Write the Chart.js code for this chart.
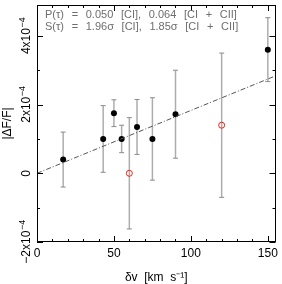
<!DOCTYPE html>
<html>
<head>
<meta charset="utf-8">
<script src="https://cdn.jsdelivr.net/npm/chart.js@4"></script>
<style>
  html, body { margin: 0; padding: 0; background: #fff; }
  #wrap { width: 282px; height: 284px; }
</style>
</head>
<body>
<div id="wrap"><canvas id="c"></canvas></div>
<script>
// measured points: CI (filled) and CI+CII only (open red)
const dvFilled  = [17, 43, 50, 55, 65, 75, 90, 150];
const dfFilled  = [0.40e-4, 1.00e-4, 1.75e-4, 1.00e-4, 1.35e-4, 1.00e-4, 1.72e-4, 3.60e-4];
const errFilled = [0.80e-4, 0.97e-4, 0.39e-4, 0.40e-4, 0.80e-4, 1.20e-4, 1.28e-4, 0.93e-4];

const dvOpen  = [60, 120];
const dfOpen  = [0.00e-4, 1.40e-4];
const errOpen = [1.62e-4, 2.10e-4];

// linear fit through origin
const fitSlope = 1.83e-6;
const fitX = [0, 155];

const xTicks = [0, 50, 100, 150];
const yTicks = [-2e-4, 0, 2e-4, 4e-4];
const yTickBase = ['\u22122x10', '0', '2x10', '4x10'];
const yTickSup  = ['\u22124', '', '\u22124', '\u22124'];

const annotLines = [
  'P(\u03c4) = 0.050 [CI], 0.064 [CI + CII]',
  'S(\u03c4) = 1.96\u03c3 [CI], 1.85\u03c3 [CI + CII]'
];

const FONT = '"Liberation Sans", Arial, sans-serif';

function pts(xs, ys){ return xs.map((x,i)=>({x:x, y:ys[i]})); }

// text with wider gaps between words
function spacedText(ctx, text, x, y, extra){
  const sp = ctx.measureText(' ').width + extra;
  text.split(' ').forEach(w=>{
    ctx.fillText(w, x, y);
    x += ctx.measureText(w).width + sp;
  });
}

const decorations = {
  id: 'decorations',
  beforeDatasetsDraw(chart){
    const ctx = chart.ctx, xs = chart.scales.x, ys = chart.scales.y;
    ctx.save();
    const drawBars = (xv, yv, ev) => {
      xv.forEach((x,i)=>{
        const px = xs.getPixelForValue(x);
        const y1 = ys.getPixelForValue(yv[i] + ev[i]);
        const y2 = ys.getPixelForValue(yv[i] - ev[i]);
        ctx.strokeStyle = '#adadad';
        ctx.lineWidth = 1.5;
        ctx.beginPath(); ctx.moveTo(px, y1); ctx.lineTo(px, y2); ctx.stroke();
        ctx.strokeStyle = '#8a8a8a';
        ctx.lineWidth = 1;
        ctx.beginPath();
        ctx.moveTo(px-2.5, y1); ctx.lineTo(px+2.5, y1);
        ctx.moveTo(px-2.5, y2); ctx.lineTo(px+2.5, y2);
        ctx.stroke();
      });
    };
    drawBars(dvFilled, dfFilled, errFilled);
    drawBars(dvOpen, dfOpen, errOpen);
    ctx.restore();
  },
  afterDraw(chart){
    const ctx = chart.ctx, a = chart.chartArea;
    const xs = chart.scales.x, ys = chart.scales.y;
    ctx.save();
    // frame
    ctx.strokeStyle = '#000';
    ctx.lineWidth = 1;
    ctx.strokeRect(Math.round(a.left)+0.5, Math.round(a.top)+0.5,
                   Math.round(a.right-a.left)-1, Math.round(a.bottom-a.top)-1);
    // inward ticks
    ctx.beginPath();
    for (let v = 0; v <= 155; v += 10){
      const px = Math.round(xs.getPixelForValue(v)) + 0.5;
      const len = (v % 50 === 0) ? 6 : 3;
      ctx.moveTo(px, a.bottom); ctx.lineTo(px, a.bottom - len);
      ctx.moveTo(px, a.top); ctx.lineTo(px, a.top + len);
    }
    for (let k = -2; k <= 4; k++){
      const py = Math.round(ys.getPixelForValue(k*1e-4)) + 0.5;
      const len = (k % 2 === 0) ? 6 : 3;
      ctx.moveTo(a.left, py); ctx.lineTo(a.left + len, py);
      ctx.moveTo(a.right, py); ctx.lineTo(a.right - len, py);
    }
    ctx.stroke();
    // rotated y tick labels
    ctx.fillStyle = '#000';
    yTicks.forEach((v,i)=>{
      const py = ys.getPixelForValue(v);
      ctx.save();
      ctx.translate(30, py);
      ctx.rotate(-Math.PI/2);
      ctx.font = '12px ' + FONT;
      const wb = ctx.measureText(yTickBase[i]).width;
      ctx.font = '9px ' + FONT;
      const ws = ctx.measureText(yTickSup[i]).width;
      const start = -(wb + ws)/2;
      ctx.textAlign = 'left';
      ctx.textBaseline = 'alphabetic';
      ctx.font = '12px ' + FONT;
      ctx.fillText(yTickBase[i], start, 0);
      ctx.font = '9px ' + FONT;
      ctx.fillText(yTickSup[i], start + wb + 0.5, -5);
      ctx.restore();
    });
    // annotation
    ctx.fillStyle = '#6e6e6e';
    ctx.font = '11px ' + FONT;
    ctx.textAlign = 'left';
    ctx.textBaseline = 'alphabetic';
    annotLines.forEach((t,i)=> spacedText(ctx, t, 45, 18 + i*12, 4.6));
    ctx.restore();
  }
};

new Chart(document.getElementById('c'), {
  type: 'scatter',
  data: {
    datasets: [
      {
        type: 'line',
        data: pts(fitX, fitX.map(x=>x*fitSlope)),
        borderColor: '#555',
        borderWidth: 1,
        borderDash: [5, 2, 1, 2],
        pointRadius: 0,
        fill: false
      },
      {
        data: pts(dvFilled, dfFilled),
        pointRadius: 3,
        pointBackgroundColor: '#000',
        pointBorderColor: '#000',
        pointBorderWidth: 0
      },
      {
        data: pts(dvOpen, dfOpen),
        pointRadius: 3,
        pointBackgroundColor: 'rgba(0,0,0,0)',
        pointBorderColor: '#e8261a',
        pointBorderWidth: 1
      }
    ]
  },
  plugins: [decorations],
  options: {
    responsive: true,
    maintainAspectRatio: false,
    animation: false,
    layout: { padding: { top: 4, right: 3, left: 0, bottom: 0 } },
    plugins: { legend: { display: false }, tooltip: { enabled: false } },
    scales: {
      x: {
        type: 'linear', min: 0, max: 155,
        grid: { display: false, drawTicks: false },
        border: { display: false },
        afterBuildTicks: s => { s.ticks = xTicks.map(v=>({value:v})); },
        afterFit: s => { s.height = 42; },
        ticks: { color: '#000', padding: 4, font: { family: FONT, size: 12 } },
        title: { display: true, text: '\u03b4v  [km  s\u207b\u00b9]', color: '#000',
                 padding: { top: 0, bottom: -1 }, font: { family: FONT, size: 12 } }
      },
      y: {
        type: 'linear', min: -2e-4, max: 4.9e-4,
        grid: { display: false, drawTicks: false },
        border: { display: false },
        ticks: { display: false },
        afterFit: s => { s.width = 37; },
        title: { display: true, text: '|\u0394F/F|', color: '#000',
                 padding: { top: 0, bottom: 0 }, font: { family: FONT, size: 12 } }
      }
    }
  }
});
</script>
</body>
</html>
